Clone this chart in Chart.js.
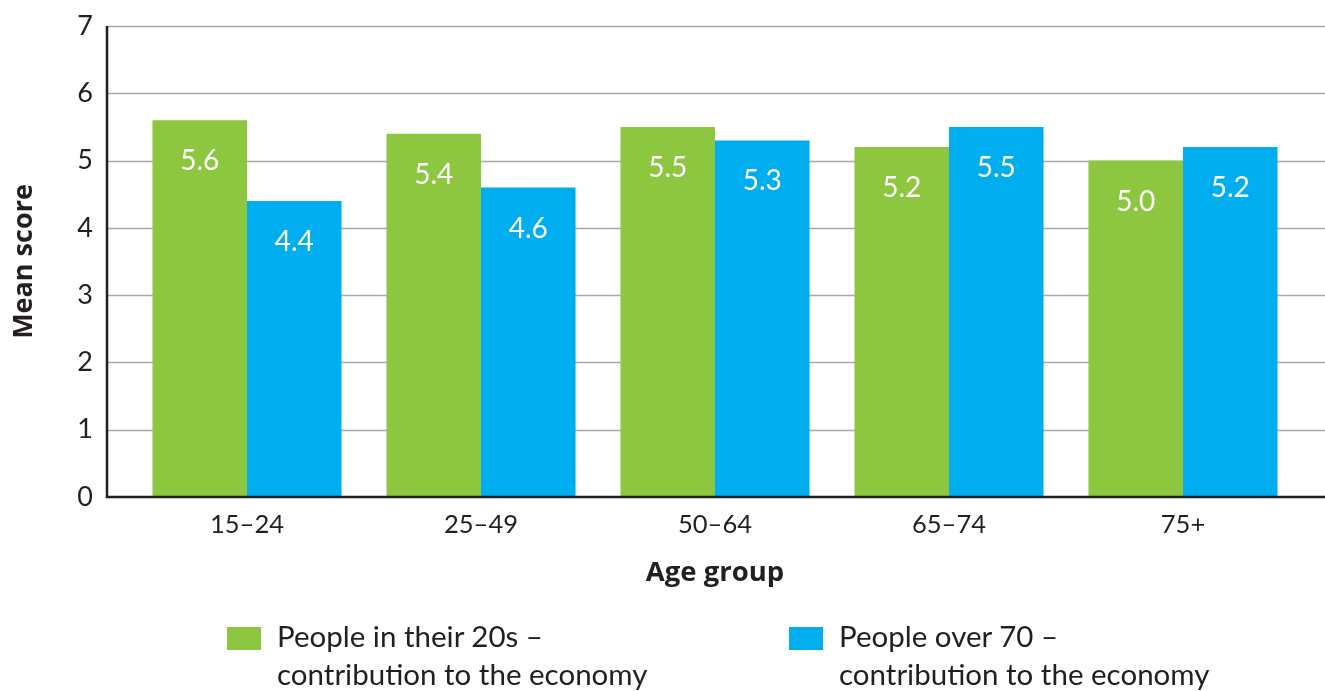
<!DOCTYPE html>
<html>
<head>
<meta charset="utf-8">
<script src="https://cdn.jsdelivr.net/npm/chart.js@4"></script>
<style>
  html, body { margin: 0; padding: 0; background: #fff; }
  #wrap { position: relative; width: 1325px; height: 691px; }
  .leg { position: absolute; top: 619px; font-family: Lato, "Open Sans", sans-serif;
         font-size: 29.5px; line-height: 38px; color: #231f20; }
  .leg .sw { position: absolute; left: 0; top: 8px; width: 34px; height: 23px; }
  .leg .tx { position: absolute; left: 50px; top: -2px; white-space: nowrap; }
</style>
</head>
<body>
<div id="wrap">
  <canvas id="chart" width="1325" height="691"></canvas>
  <div id="legend"></div>
</div>
<script>
/* Mean score by age group — two attitude questions */

const AGE_GROUPS = ["15–24", "25–49", "50–64", "65–74", "75+"];
const TWENTIES   = [5.6, 5.4, 5.5, 5.2, 5.0];
const OVER_70    = [4.4, 4.6, 5.3, 5.5, 5.2];
const Y_TICKS    = [0, 1, 2, 3, 4, 5, 6, 7];

const SERIES = [
  { label: ["People in their 20s –", "contribution to the economy"], data: TWENTIES, color: "#8dc63f", legendX: 227 },
  { label: ["People over 70 –", "contribution to the economy"],      data: OVER_70,  color: "#00aeef", legendX: 789 },
];

const INK  = "#231f20";
const FONT = 'Lato, "Open Sans", sans-serif';
const BOLD = '"Open Sans", Lato, sans-serif';

/* ── 격자선 + 축선 (plot 영역보다 넓게) ── */
const framePlugin = {
  id: "frame",
  beforeDatasetsDraw(chart) {
    const { ctx, scales: { y } } = chart;
    ctx.save();
    ctx.strokeStyle = "#a7a9ac";
    ctx.lineWidth = 1.5;
    Y_TICKS.slice(1).forEach(v => {
      const py = Math.round(y.getPixelForValue(v)) + 0.5;
      ctx.beginPath();
      ctx.moveTo(107, py);
      ctx.lineTo(chart.width, py);
      ctx.stroke();
    });
    ctx.restore();
  },
  afterDatasetsDraw(chart) {
    const { ctx, scales: { y } } = chart;
    const top = y.getPixelForValue(7);
    const bottom = y.getPixelForValue(0);
    ctx.save();
    ctx.strokeStyle = INK;
    ctx.lineWidth = 2.5;
    ctx.beginPath();
    ctx.moveTo(107, top);
    ctx.lineTo(107, bottom);
    ctx.lineTo(chart.width, bottom);
    ctx.stroke();

    /* 막대 안 값 */
    ctx.fillStyle = "#fff";
    ctx.font = "28px " + FONT;
    ctx.textAlign = "center";
    ctx.textBaseline = "middle";
    chart.data.datasets.forEach((ds, i) => {
      chart.getDatasetMeta(i).data.forEach((bar, j) => {
        ctx.fillText(ds.data[j].toFixed(1), bar.x, bar.y + 41);
      });
    });
    ctx.restore();
  },
};

new Chart(document.getElementById("chart"), {
  type: "bar",
  data: {
    labels: AGE_GROUPS,
    datasets: SERIES.map(s => ({
      label: s.label.join(" "),
      data: s.data,
      backgroundColor: s.color,
      borderWidth: 0,
      barPercentage: 1,
      categoryPercentage: 0.808,
    })),
  },
  options: {
    responsive: false,
    animation: false,
    layout: { padding: { top: 26, right: 25, bottom: 94, left: 0 } },
    plugins: { legend: { display: false }, tooltip: { enabled: false } },
    scales: {
      x: {
        grid: { display: false, drawTicks: false },
        border: { display: false },
        ticks: { color: INK, font: { family: FONT, size: 25.5 }, padding: 12 },
        title: {
          display: true, text: "Age group", color: INK,
          font: { family: BOLD, size: 27.5, weight: "bold" },
          padding: { top: 0, bottom: 7 },
        },
        afterFit(scale) { scale.height = 100; },
      },
      y: {
        min: 0, max: 7,
        afterBuildTicks(scale) { scale.ticks = Y_TICKS.map(v => ({ value: v })); },
        grid: { display: false, drawTicks: false },
        border: { display: false },
        ticks: { color: INK, font: { family: FONT, size: 27 }, padding: 37 },
        title: {
          display: true, text: "Mean score", color: INK,
          font: { family: BOLD, size: 27, weight: "bold" },
          padding: { top: 8, bottom: 0 },
        },
        afterFit(scale) {
          scale.width = 130;
          // 라벨 간격(padding 37)이 위쪽 여백에 더해지지 않도록
          scale.paddingTop = 10;
          scale.paddingBottom = 10;
        },
      },
    },
  },
  plugins: [framePlugin],
});

/* ── 범례 (두 줄) ── */
const legend = document.getElementById("legend");
SERIES.forEach(s => {
  const el = document.createElement("div");
  el.className = "leg";
  el.style.left = s.legendX + "px";
  el.innerHTML = `<span class="sw" style="background:${s.color}"></span>
    <span class="tx">${s.label[0]}<br>${s.label[1]}</span>`;
  legend.appendChild(el);
});
</script>
</body>
</html>
